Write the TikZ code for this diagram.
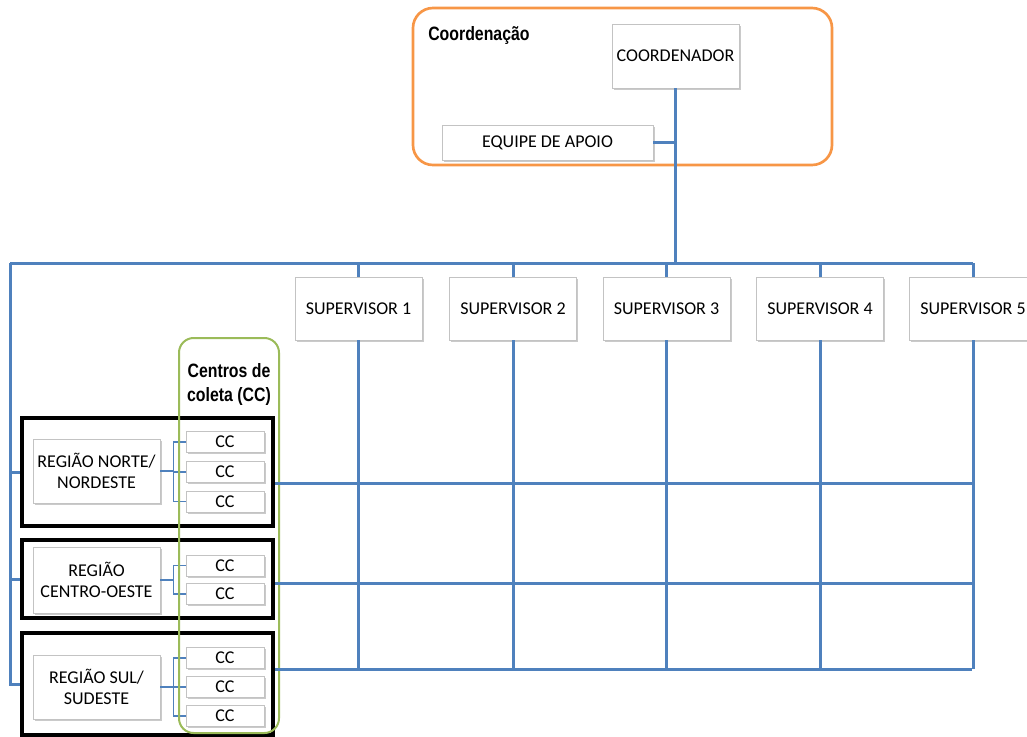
\documentclass[tikz,border=0pt]{standalone}
\usepackage{fontspec}
\setmainfont{Carlito}
\newfontfamily\narrowfont[FakeStretch=0.82]{Liberation Sans}
\usetikzlibrary{shadows,calc}
\definecolor{obl}{RGB}{79,129,189}
\definecolor{oor}{RGB}{247,150,70}
\definecolor{ogr}{RGB}{155,187,89}
\definecolor{bxb}{RGB}{195,195,195}
\begin{document}
\begin{tikzpicture}[x=0.75pt,y=-0.75pt,
  box/.style={draw=bxb, line width=0.6pt, fill=white, inner sep=0pt,
    font=\fontsize{13.5}{16}\selectfont, align=center,
    drop shadow={shadow xshift=1.3pt,shadow yshift=-1.3pt,opacity=0.35,fill=black!60}},
  supbox/.style={box, minimum width=95.25pt, minimum height=47.25pt},
  ccbox/.style={box, minimum width=58.5pt, minimum height=15.75pt},
  regbox/.style={draw=black, line width=3pt, inner sep=0pt, minimum width=188.25pt},
  regin/.style={box, minimum width=95.25pt},
  mainline/.style={draw=obl, line width=2.25pt},
  subline/.style={draw=obl, line width=1pt},
  headtext/.style={font=\narrowfont\bfseries\fontsize{14.5}{18}\selectfont, inner sep=0pt}
]
\useasboundingbox (0,0) rectangle (1027,736);
\clip (0,0) rectangle (1027,736);

% coordination group
\node[draw=oor, line width=2pt, rounded corners=15pt, minimum width=314.25pt, minimum height=117.75pt, inner sep=0pt] (coordgrp) at (622.5,86.5) {};
\node[headtext, anchor=west] (coordlbl) at (428,35) {Coordenação};
\node[box, minimum width=95.25pt, minimum height=48pt] (coord) at (675.5,56) {COORDENADOR};
\node[box, minimum width=158.25pt, minimum height=26.25pt] (equipe) at (547.5,142.5) {EQUIPE DE APOIO};

% supervisors
\node[supbox] (s1) at (358.5,308.5) {SUPERVISOR 1};
\node[supbox] (s2) at (513,308.5) {SUPERVISOR 2};
\node[supbox] (s3) at (666.5,308.5) {SUPERVISOR 3};
\node[supbox] (s4) at (820,308.5) {SUPERVISOR 4};
\node[supbox] (s5) at (973,308.5) {SUPERVISOR 5};

% region groups
\node[regbox, minimum height=81pt] (bn) at (147.5,472) {};
\node[regbox, minimum height=58.5pt] (bc) at (147.5,579) {};
\node[regbox, minimum height=76.5pt] (bs) at (147.5,684) {};

\node[regin, minimum height=48pt] (rn) at (96.5,471) {REGIÃO NORTE/\\NORDESTE};
\node[regin, minimum height=49.5pt] (rc) at (96.5,580) {REGIÃO\\CENTRO-OESTE};
\node[regin, minimum height=48pt] (rs) at (96.5,687) {REGIÃO SUL/\\SUDESTE};

\node[ccbox] (cn1) at (225,442) {CC};
\node[ccbox] (cn2) at (225,472) {CC};
\node[ccbox] (cn3) at (225,501.5) {CC};
\node[ccbox] (cc1) at (225,565.5) {CC};
\node[ccbox] (cc2) at (225,594) {CC};
\node[ccbox] (cs1) at (225,658) {CC};
\node[ccbox] (cs2) at (225,687) {CC};
\node[ccbox] (cs3) at (225,716) {CC};

% region-to-CC connectors
\foreach \c in {cn1,cn2,cn3} \draw[subline] (rn.east) -- ++(13,0) |- (\c.west);
\foreach \c in {cc1,cc2} \draw[subline] (rc.east) -- ++(13,0) |- (\c.west);
\foreach \c in {cs1,cs2,cs3} \draw[subline] (rs.east) -- ++(13,0) |- (\c.west);

% collection-centre group
\node[draw=ogr, line width=1.5pt, rounded corners=11pt, minimum width=75pt, minimum height=296.25pt, inner sep=0pt] (ccgrp) at (229,535.5) {};
\node[headtext, align=center] (cclbl) at (229,384) {Centros de\\coleta (CC)};

% main hierarchy lines
\coordinate (busL) at (10,263);
\coordinate (busR) at (973,263);
\draw[mainline] (coord.south) -- (coord.south |- busL);
\draw[mainline] (equipe.east) -- (equipe.east -| coord.south);
\draw[mainline] (busL) -- (busR);
\foreach \s in {s1,s2,s3,s4,s5} \draw[mainline] (\s.north) -- (\s.north |- busL);
\draw[mainline] (busL) |- (bs.west);
\draw[mainline] (busL |- bn.west) -- (bn.west);
\draw[mainline] (busL |- bc.west) -- (bc.west);

% grid rows
\coordinate (rowN) at (972,483);
\coordinate (rowC) at (972,583);
\coordinate (rowS) at (972,669);
\draw[mainline] (bn.east |- rowN) -- (rowN);
\draw[mainline] (bc.east |- rowC) -- (rowC);
\draw[mainline] (bs.east |- rowS) -- (rowS);
\foreach \s in {s1,s2,s3,s4,s5} \draw[mainline] (\s.south) -- (\s.south |- rowS);
\end{tikzpicture}
\end{document}
